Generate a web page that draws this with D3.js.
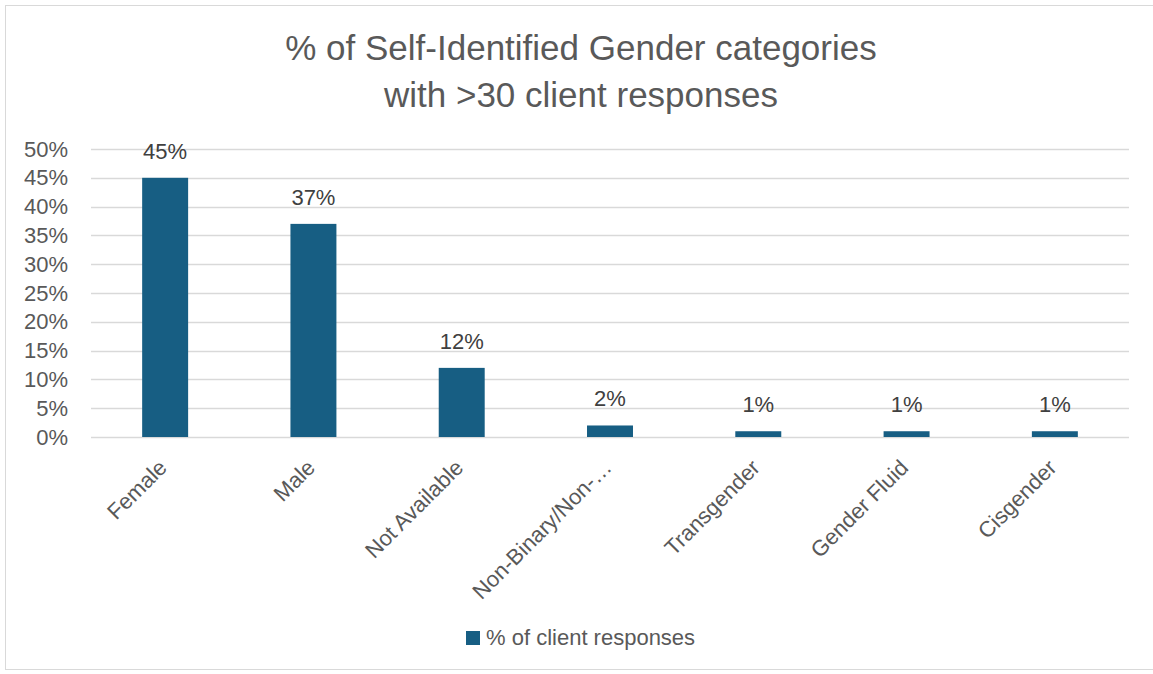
<!DOCTYPE html>
<html>
<head>
<meta charset="utf-8">
<script src="https://cdn.jsdelivr.net/npm/d3@7"></script>
<style>
  html, body { margin: 0; padding: 0; background: #fff; }
  svg { display: block; font-family: "Liberation Sans", Arial, sans-serif; }
</style>
</head>
<body>
<svg id="chart" width="1153" height="674"></svg>
<script>
// Gender categories and share of client responses (%)
const categories = ["Female", "Male", "Not Available", "Non-Binary/Non-…", "Transgender", "Gender Fluid", "Cisgender"];
const values = [45, 37, 12, 2, 1, 1, 1];
const yTicks = [0, 5, 10, 15, 20, 25, 30, 35, 40, 45, 50];
const titleLines = ["% of Self-Identified Gender categories", "with >30 client responses"];
const seriesName = "% of client responses";

const W = 1153, H = 674;
const margin = { left: 91, right: 24, top: 149, bottom: 237 };
const barColor = "#175E83";
const textColor = "#595959";
const gridColor = "#d9d9d9";
const labelSize = "22px";

const svg = d3.select("#chart");

// chart frame
svg.append("rect")
  .attr("x", 5.5).attr("y", 5.5)
  .attr("width", W + 10).attr("height", 664)
  .attr("fill", "#fff").attr("stroke", gridColor).attr("stroke-width", 1);

const x = d3.scaleBand()
  .domain(categories)
  .range([margin.left, W - margin.right])
  .paddingInner(0.69).paddingOuter(0.345);

const y = d3.scaleLinear()
  .domain([0, 50])
  .range([H - margin.bottom, margin.top]);

// gridlines
svg.append("g")
  .selectAll("line")
  .data(yTicks)
  .join("line")
  .attr("x1", margin.left).attr("x2", W - margin.right)
  .attr("y1", d => Math.round(y(d)) + 0.5).attr("y2", d => Math.round(y(d)) + 0.5)
  .attr("stroke", gridColor).attr("stroke-width", 1.5);

// y axis labels
const yAxis = d3.axisLeft(y).tickValues(yTicks).tickFormat(d => d + "%").tickSize(0).tickPadding(23);
const gy = svg.append("g").attr("transform", `translate(${margin.left},0)`).call(yAxis);
gy.select(".domain").remove();
gy.selectAll("text").attr("fill", textColor).style("font-size", labelSize);

// bars
svg.append("g")
  .selectAll("rect")
  .data(values)
  .join("rect")
  .attr("x", (d, i) => x(categories[i]))
  .attr("width", x.bandwidth())
  .attr("y", d => y(d))
  .attr("height", d => y(0) - y(d))
  .attr("fill", barColor);

// value labels
svg.append("g")
  .selectAll("text")
  .data(values)
  .join("text")
  .attr("x", (d, i) => x(categories[i]) + x.bandwidth() / 2)
  .attr("y", d => y(d) - 19)
  .attr("text-anchor", "middle")
  .attr("fill", "#404040")
  .style("font-size", labelSize)
  .text(d => d + "%");

// x axis labels, rotated
const xAxis = d3.axisBottom(x).tickSize(0).tickPadding(0);
const gx = svg.append("g").attr("transform", `translate(0,${y(0)})`).call(xAxis);
gx.select(".domain").remove();
gx.selectAll("text")
  .attr("fill", textColor)
  .style("font-size", labelSize)
  .attr("text-anchor", "end")
  .attr("dy", null)
  .attr("transform", "translate(3,32) rotate(-45)");

// title
svg.append("g")
  .selectAll("text")
  .data(titleLines)
  .join("text")
  .attr("x", 581)
  .attr("y", (d, i) => 60 + i * 47)
  .attr("text-anchor", "middle")
  .attr("fill", textColor)
  .style("font-size", "35px")
  .text(d => d);

// legend
const lg = svg.append("g").attr("transform", "translate(466,631)");
lg.append("rect").attr("width", 14).attr("height", 14).attr("fill", barColor);
lg.append("text").attr("x", 20).attr("y", 14)
  .attr("fill", textColor).style("font-size", labelSize).text(seriesName);
</script>
</body>
</html>
